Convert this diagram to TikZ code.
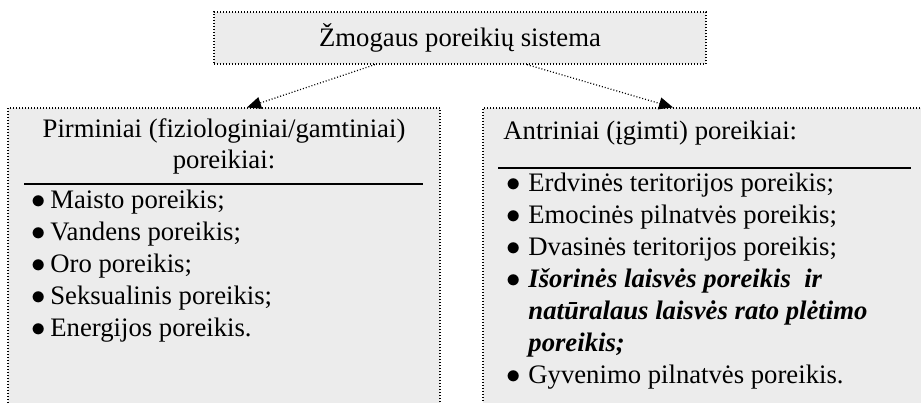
\documentclass[tikz,border=0pt]{standalone}
\usepackage{fontspec}
\setmainfont{Liberation Serif}
\usetikzlibrary{arrows.meta}
\definecolor{boxgray}{HTML}{ECECEC}
\newcommand{\itembul}{$\bullet$}

\begin{document}
\begin{tikzpicture}[x=0.5pt,y=-0.5pt,
    font=\fontsize{13.35pt}{16pt}\selectfont,
    box/.style={draw,fill=boxgray,dash pattern=on 0.5pt off 1pt,line width=0.6pt,inner sep=0pt},
    conn/.style={dash pattern=on 0.5pt off 1pt,line width=0.6pt,-{Triangle[length=7pt,width=6pt]}},
    txt/.style={inner sep=0pt,text height=0.7em,text depth=0.22em},
    rule/.style={line width=1pt}]
        \path[use as bounding box,clip] (0,0) rectangle (921,402);
        % boxes
        \node[box,minimum width=246pt,minimum height=26pt] (sys) at (460,38) {Žmogaus poreikių sistema};
        \node[box,minimum width=216pt,minimum height=156pt] (prim) at (224,264) {};
        \node[box,minimum width=228.5pt,minimum height=156pt] (antr) at (711.5,264) {};
        \draw[conn] ([xshift=-42.5pt]sys.south) -- ([xshift=11.5pt]prim.north);
        \draw[conn] ([xshift=33.5pt]sys.south) -- ([xshift=-19.25pt]antr.north);
        % left box
        \node[txt] (pt1) at (224,133) {Pirminiai (fiziologiniai/gamtiniai)};
        \node[txt] (pt2) at (224,164) {poreikiai:};
        \draw[rule] (24,184) -- (423,184);
        \foreach \t [count=\i] in {Maisto poreikis;,Vandens poreikis;,Oro poreikis;,Seksualinis poreikis;,Energijos poreikis.}
            \node[txt,anchor=west] (l\i) at (31,172+32*\i) {\makebox[9.5pt][l]{\itembul}\t};
        % right box
        \node[txt,anchor=west] (at) at (503,135) {Antriniai (įgimti) poreikiai:};
        \draw[rule] (498,168) -- (911,168);
        \node[txt,anchor=west] (r1) at (506,187) {\makebox[11pt][l]{\itembul}Erdvinės teritorijos poreikis;};
        \node[txt,anchor=west] (r2) at (506,219) {\makebox[11pt][l]{\itembul}Emocinės pilnatvės poreikis;};
        \node[txt,anchor=west] (r3) at (506,251) {\makebox[11pt][l]{\itembul}Dvasinės teritorijos poreikis;};
        \node[txt,anchor=west] (r4) at (506,283) {\makebox[11pt][l]{\itembul}\textbf{\textit{Išorinės laisvės poreikis\ \ ir}}};
        \node[txt,anchor=west,font=\fontsize{13.35pt}{16pt}\selectfont\bfseries\itshape] (r5) at (528,315) {natūralaus laisvės rato plėtimo};
        \node[txt,anchor=west,font=\fontsize{13.35pt}{16pt}\selectfont\bfseries\itshape] (r6) at (528,347) {poreikis;};
        \node[txt,anchor=west] (r7) at (506,379) {\makebox[11pt][l]{\itembul}Gyvenimo pilnatvės poreikis.};
    \end{tikzpicture}
\end{document}
